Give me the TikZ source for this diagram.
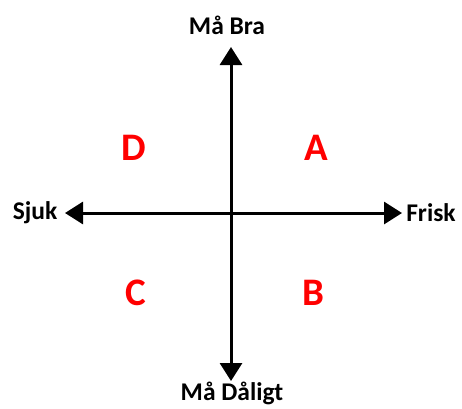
\documentclass[tikz,border=0pt]{standalone}
\usepackage{fontspec}
\setmainfont{Carlito}
\usetikzlibrary{arrows.meta}
\begin{document}
\begin{tikzpicture}[x=1pt,y=-1pt,
  axis/.style={line width=3pt,{Triangle[length=18pt,width=22pt]}-{Triangle[length=18pt,width=22pt]}},
  lbl/.style={font=\fontsize{25.5}{30}\selectfont\bfseries,text=black,inner sep=0pt},
  quad/.style={font=\fontsize{39}{44}\selectfont\bfseries,text=red,inner sep=0pt}]
\useasboundingbox (0,0) rectangle (462,408);
\coordinate (top) at (231,47);
\coordinate (bot) at (231,381);
\coordinate (lft) at (65,213);
\coordinate (rgt) at (402,213);
\draw[axis] (bot) -- (top);
\draw[axis] (lft) -- (rgt);
\node[lbl] (mabra) at (227,25) {Må Bra};
\node[lbl] (madaligt) at (232,393) {Må Dåligt};
\node[lbl] (sjuk) at (35,213) {Sjuk};
\node[lbl] (frisk) at (431,213) {Frisk};
\node[quad] (D) at (134,148) {D};
\node[quad] (A) at (316,148) {A};
\node[quad] (C) at (136,293) {C};
\node[quad] (B) at (313,293) {B};
\end{tikzpicture}
\end{document}
